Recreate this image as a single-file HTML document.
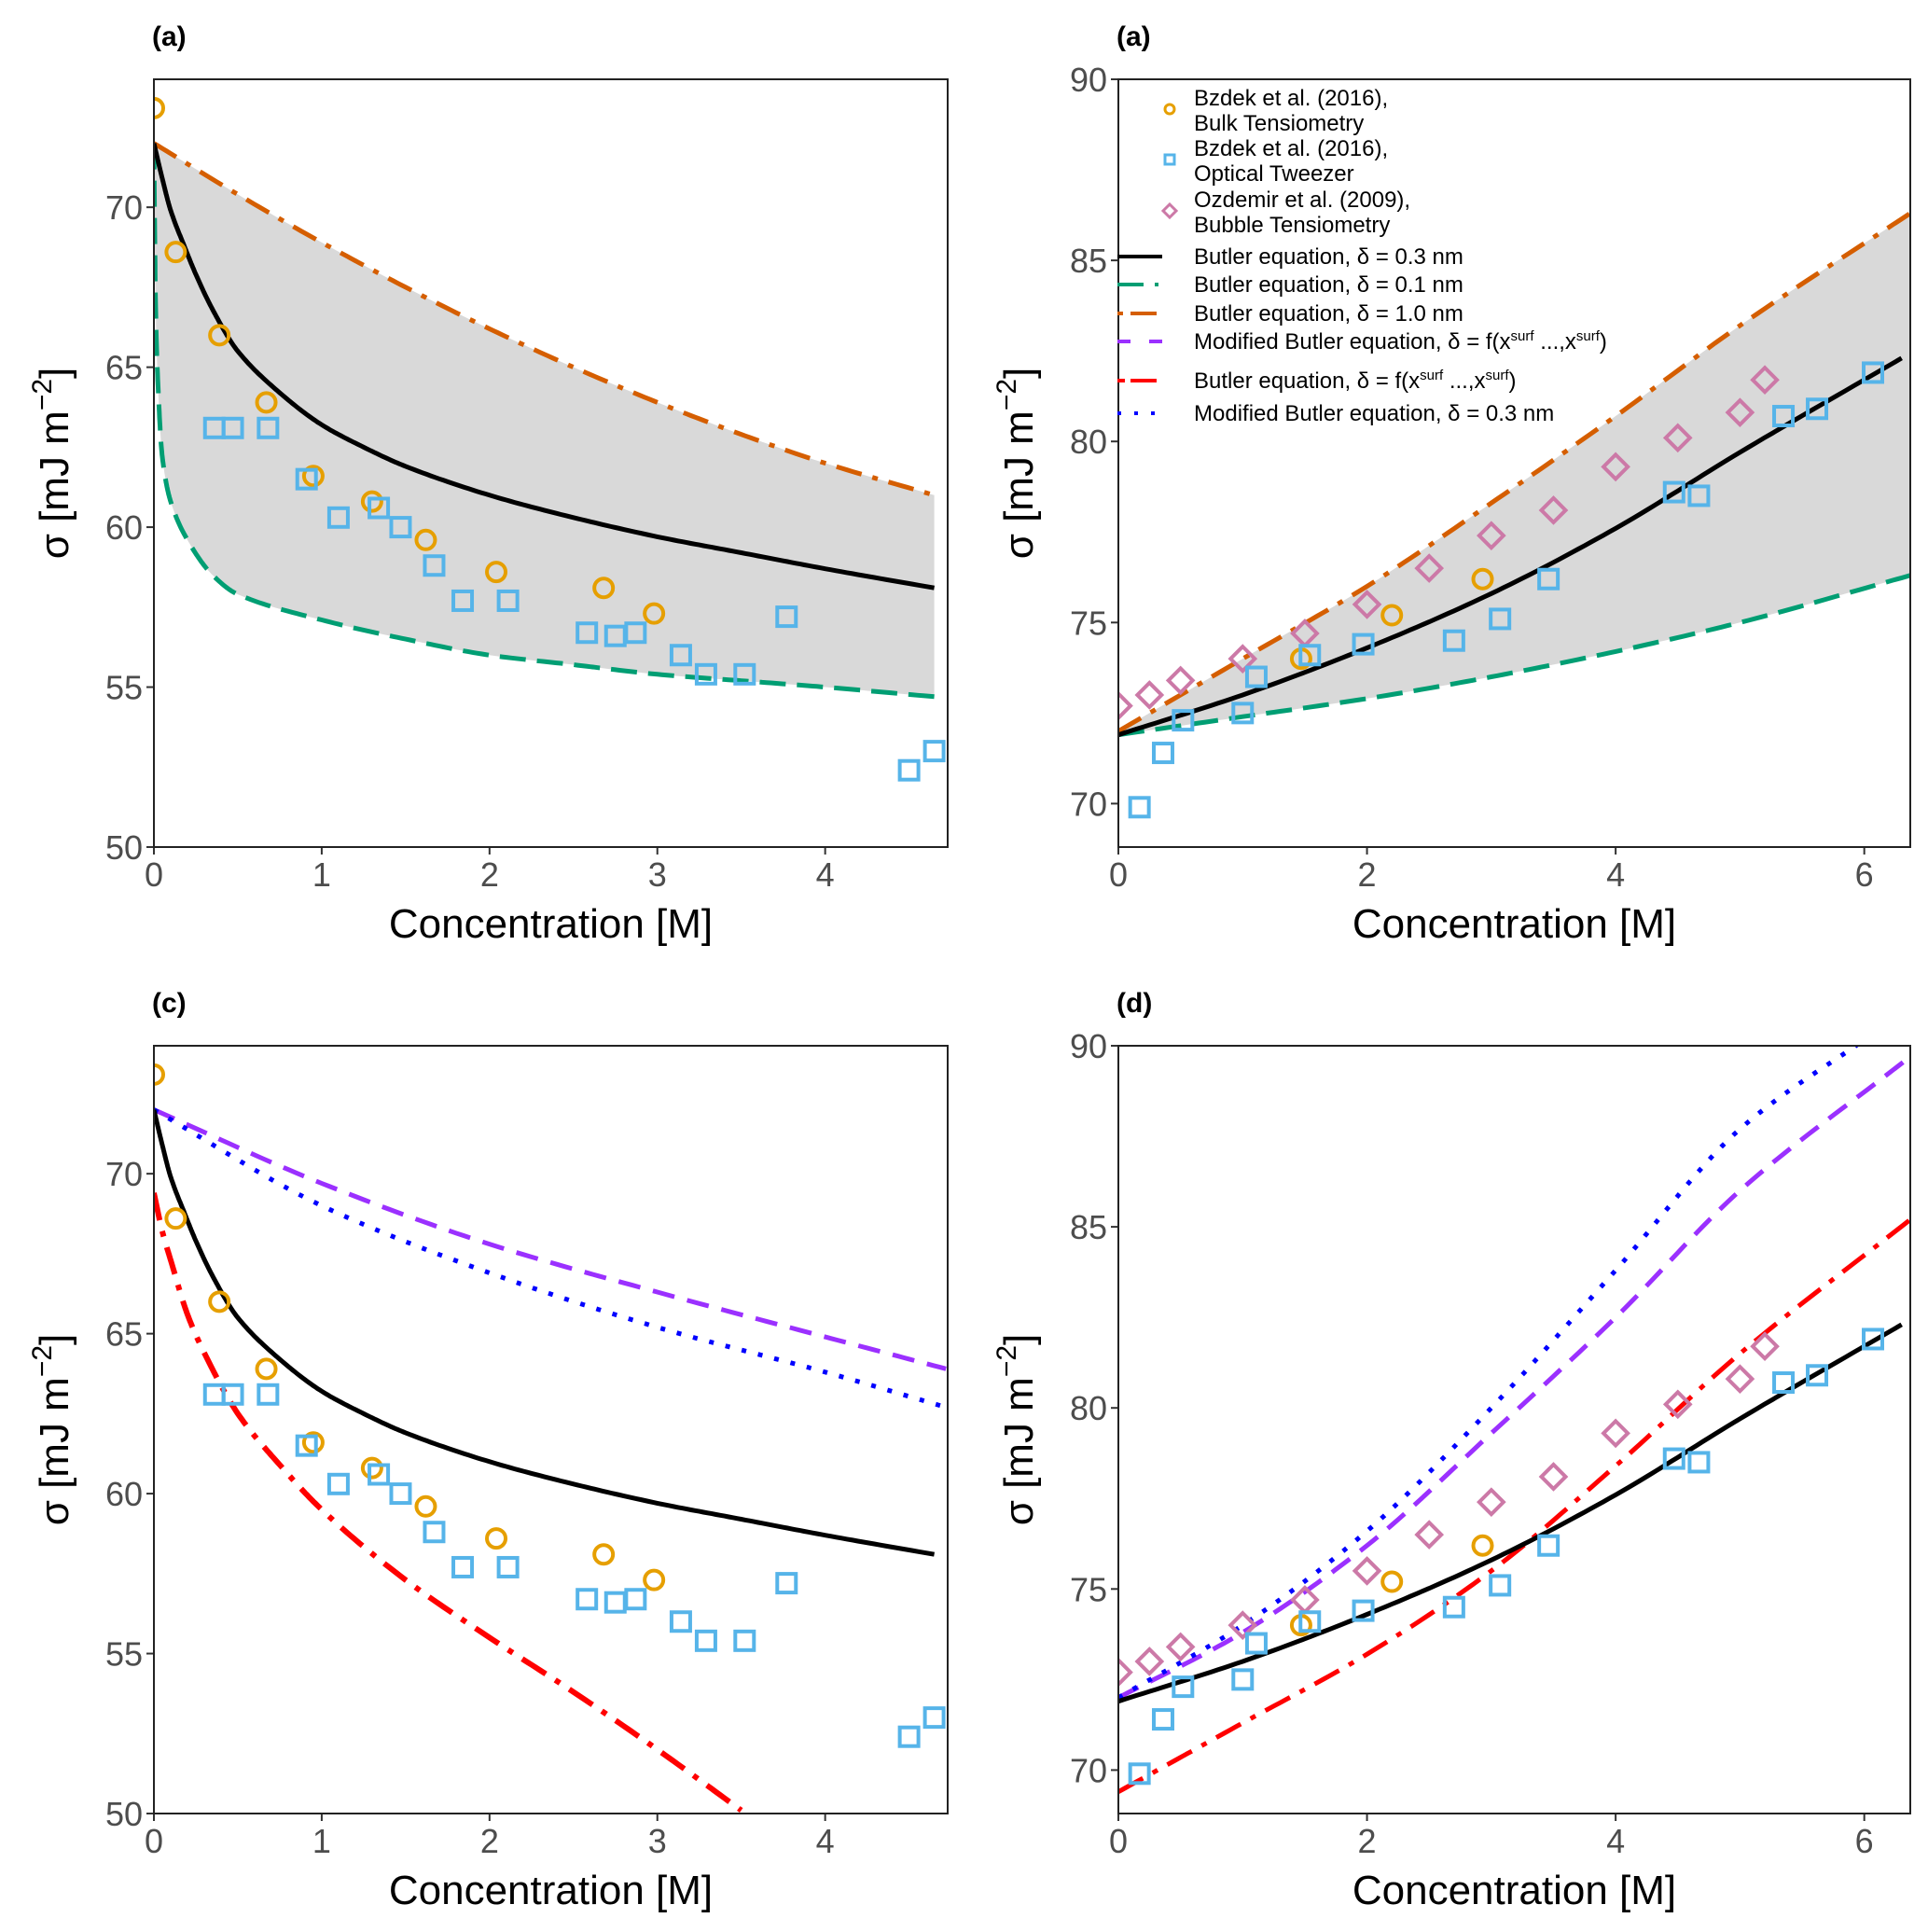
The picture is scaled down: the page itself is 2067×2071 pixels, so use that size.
<!DOCTYPE html>
<html><head><meta charset="utf-8"><style>
html,body{margin:0;padding:0;background:#fff;}
svg{display:block;font-family:"Liberation Sans",Arial,sans-serif;}
</style></head><body>
<svg id="fig" width="2067" height="2071" viewBox="0 0 2067 2071" xmlns="http://www.w3.org/2000/svg"></svg>
<script>
// ---- data ----
const bulkX=[0,0.13,0.39,0.67,0.95,1.3,1.62,2.04,2.68,2.98];
const bulkY=[73.1,68.6,66.0,63.9,61.6,60.8,59.6,58.6,58.1,57.3];
const tweezX=[0.36,0.47,0.68,0.91,1.1,1.34,1.47,1.67,1.84,2.11,2.58,2.75,2.87,3.14,3.29,3.52,3.77,4.5,4.65];
const tweezY=[63.1,63.1,63.1,61.5,60.3,60.6,60.0,58.8,57.7,57.7,56.7,56.6,56.7,56.0,55.4,55.4,57.2,52.4,53.0];
const butA_X=[0,0.05,0.1,0.18,0.25,0.35,0.5,0.75,1,1.25,1.5,2,2.5,3,3.5,4,4.65];
const butA_Y=[72,70.9,69.9,68.8,67.9,66.8,65.5,64.2,63.2,62.5,61.9,61.0,60.3,59.7,59.2,58.7,58.1];
const orA_X=[0,0.5,1,1.5,2,2.5,3,3.5,4,4.65];
const orA_Y=[72,70.4,68.9,67.5,66.2,65.0,63.9,62.9,62.0,61.0];
const grA_X=[0,0.01,0.02,0.05,0.1,0.2,0.35,0.5,1,1.5,2,2.5,3,3.5,4,4.65];
const grA_Y=[72,67,65,62.2,60.8,59.6,58.5,57.9,57.1,56.5,56.0,55.7,55.4,55.2,55.0,54.7];
const purC_X=[0,1,2,3,4,4.72];const purC_Y=[72,69.7,67.8,66.3,64.9,63.9];
const bluC_X=[0,1,2,3,4,4.72];const bluC_Y=[72,69.0,66.9,65.2,63.8,62.7];
const redC_X=[0,0.05,0.1,0.2,0.3,0.5,0.75,1,1.5,2,2.5,3,3.5];
const redC_Y=[69.4,68.2,67.3,65.6,64.4,62.5,60.9,59.5,57.3,55.5,53.8,52.0,50.1];
const ozX=[0,0.25,0.5,1,1.5,2,2.5,3,3.5,4,4.5,5,5.2];
const ozY=[72.7,73.0,73.4,74.0,74.7,75.5,76.5,77.4,78.1,79.3,80.1,80.8,81.7];
const bulkBX=[1.47,2.2,2.93];const bulkBY=[74.0,75.2,76.2];
const tweBX=[0.17,0.36,0.52,1.0,1.11,1.54,1.97,2.7,3.07,3.46,4.47,4.67,5.35,5.62,6.07];
const tweBY=[69.9,71.4,72.3,72.5,73.5,74.1,74.4,74.5,75.1,76.2,78.6,78.5,80.7,80.9,81.9];
const butB_X=[0,1,2,3,4,5,6.3];const butB_Y=[71.9,73.0,74.3,75.8,77.6,79.7,82.3];
const orB_X=[0,1,2,3,4,5,6.37];const orB_Y=[72,74.0,76.0,78.3,80.7,83.2,86.3];
const grB_X=[0,1,2,3,4,5,6.37];const grB_Y=[71.9,72.4,72.9,73.5,74.2,75.0,76.3];
const purD_X=[0,1,2,3,4,5,6.37];const purD_Y=[72,73.8,76.2,79.3,82.5,86.0,89.7];
const bluD_X=[0,1,2,3,4,5,6.1];const bluD_Y=[72,74.0,76.6,80.0,83.8,87.7,90.4];
const redD_X=[0,1,2,3,4,5,6.37];const redD_Y=[69.4,71.3,73.2,75.5,78.4,81.5,85.2];
const ticksXL=[0,1,2,3,4];const ticksYL=[50,55,60,65,70];
const ticksXR=[0,2,4,6];const ticksYR=[70,75,80,85,90];

const NS="http://www.w3.org/2000/svg";
const svg=document.getElementById('fig');
function el(tag,attrs,parent,txt){const e=document.createElementNS(NS,tag);for(const k in attrs)e.setAttribute(k,attrs[k]);if(txt!==undefined)e.textContent=txt;(parent||svg).appendChild(e);return e;}
const C={or:"#E69F00",bl:"#56B4E9",pk:"#CC79A7",dor:"#D55E00",gr:"#009E73",pu:"#9B30FF",rd:"#FF0000",db:"#0000FF"};

// monotone cubic interpolation -> dense pixel points
function smoothPts(X,Y,sx,sy){
  const n=X.length;const px=X.map(sx),py=Y.map(sy);
  if(n<3)return px.map((x,i)=>[x,py[i]]);
  const d=[],m=[];
  for(let i=0;i<n-1;i++)d.push((py[i+1]-py[i])/(px[i+1]-px[i]));
  m[0]=d[0];m[n-1]=d[n-2];
  for(let i=1;i<n-1;i++)m[i]=(d[i-1]*d[i]<=0)?0:(2/(1/d[i-1]+1/d[i]))*((1));
  const out=[];
  for(let i=0;i<n-1;i++){const h=px[i+1]-px[i];const N=20;
    for(let k=0;k<N;k++){const t=k/N,t2=t*t,t3=t2*t;
      const y=(2*t3-3*t2+1)*py[i]+(t3-2*t2+t)*h*m[i]+(-2*t3+3*t2)*py[i+1]+(t3-t2)*h*m[i+1];
      out.push([px[i]+t*h,y]);}}
  out.push([px[n-1],py[n-1]]);return out;
}

function panel(name,L,R,T,B,xmin,xmax,ymin,ymax,tx,ty,label){
  const g=el('g',{});
  
  
  const sx=v=>L+(v-xmin)/(xmax-xmin)*(R-L);
  const sy=v=>B-(v-ymin)/(ymax-ymin)*(B-T);
  const cid='clip-'+name;
  const cp=el('clipPath',{id:cid},g);el('rect',{x:L,y:T,width:R-L,height:B-T},cp);
  const plot=el('g',{'clip-path':'url(#'+cid+')'},g);
  
  
  const lab=el('text',{x:L-2,y:T-36,'font-size':30,'font-weight':'bold',fill:'#000'},g,label);
  
  
  tx.forEach(v=>{el('line',{x1:sx(v),x2:sx(v),y1:B,y2:B+8,stroke:'#333','stroke-width':2},g);
    const t=el('text',{x:sx(v),y:B+42,'font-size':36,fill:'#4D4D4D','text-anchor':'middle'},g,v);
    
    });
  ty.forEach(v=>{el('line',{x1:L-8,x2:L,y1:sy(v),y2:sy(v),stroke:'#333','stroke-width':2},g);
    const t=el('text',{x:L-12,y:sy(v)+13,'font-size':36,fill:'#4D4D4D','text-anchor':'end'},g,v);
    
    });
  const xt=el('text',{x:(L+R)/2,y:B+97,'font-size':44,fill:'#000','text-anchor':'middle'},g,'Concentration [M]');
  
  
  const yt=el('text',{transform:`translate(${L-92},${(T+B)/2}) rotate(-90)`,'font-size':44,fill:'#000','text-anchor':'middle'},g);
  
  
  el('tspan',{},yt,'σ [mJ m');el('tspan',{dy:-18,'font-size':30},yt,'−2');el('tspan',{dy:18},yt,']');
  const P={sx,sy,plot,g,L,R,T,B};
  P.pp=(X,Y)=>smoothPts(X,Y,sx,sy);
  P.path=(X,Y)=>P.pp(X,Y).map((p,i)=>(i?'L':'M')+p[0].toFixed(1)+','+p[1].toFixed(1)).join('');
  P.line=(nm,X,Y,col,dash,w)=>{const p=el('path',{d:P.path(X,Y),fill:'none',stroke:col,'stroke-width':w||5,'stroke-dasharray':dash||'none'},plot);
    
    };
  P.band=(X1,Y1,X2,Y2)=>{let d=P.path(X1,Y1);const b=P.pp(X2,Y2).reverse();b.forEach(p=>d+='L'+p[0].toFixed(1)+','+p[1].toFixed(1));
    const p=el('path',{d:d+'Z',fill:'#D9D9D9',stroke:'none'},plot);
    
    };
  P.pts=(nm,X,Y,shape,col)=>{X.forEach((x,i)=>{const cx=sx(x),cy=sy(Y[i]);let m;
    if(shape==='c')m=el('circle',{cx,cy,r:10,fill:'none',stroke:col,'stroke-width':4},plot);
    else if(shape==='s')m=el('rect',{x:cx-10,y:cy-10,width:20,height:20,fill:'none',stroke:col,'stroke-width':4},plot);
    else m=el('path',{d:`M${cx},${cy-13}L${cx+13},${cy}L${cx},${cy+13}L${cx-13},${cy}Z`,fill:'none',stroke:col,'stroke-width':4},plot);
    
    });};
  P.frame=()=>{el('rect',{x:L,y:T,width:R-L,height:B-T,fill:'none',stroke:'#222','stroke-width':2},g);};
  return P;
}
const dLong='28 12', dOrg='28 12 6 12', dDot='5 13', dPur='24 14', dRed='30 12 6 12';

// panel a
let P=panel('panel-a',165,1016,85,908,0,4.73,50,74.0,ticksXL,ticksYL,'(a)');
P.band(orA_X,orA_Y,grA_X,grA_Y);
P.line('butler-0.1nm',grA_X,grA_Y,C.gr,dLong);
P.line('butler-1.0nm',orA_X,orA_Y,C.dor,dOrg);
P.line('butler-0.3nm',butA_X,butA_Y,'#000');
P.pts('bulk-point',bulkX,bulkY,'c',C.or);P.pts('tweezer-point',tweezX,tweezY,'s',C.bl);P.frame();

// panel c
P=panel('panel-c',165,1016,1121,1944,0,4.73,50,74.0,ticksXL,ticksYL,'(c)');
P.line('modified-butler-f',purC_X,purC_Y,C.pu,dPur);
P.line('modified-butler-0.3nm',bluC_X,bluC_Y,C.db,dDot);
P.line('butler-f',redC_X,redC_Y,C.rd,dRed,6);
P.line('butler-0.3nm',butA_X,butA_Y,'#000');
P.pts('bulk-point',bulkX,bulkY,'c',C.or);P.pts('tweezer-point',tweezX,tweezY,'s',C.bl);P.frame();

// panel b
P=panel('panel-b',1199,2048,85,908,0,6.37,68.8,90,ticksXR,ticksYR,'(a)');
P.band(orB_X,orB_Y,grB_X,grB_Y);
P.line('butler-0.1nm',grB_X,grB_Y,C.gr,dLong);
P.line('butler-1.0nm',orB_X,orB_Y,C.dor,dOrg);
P.line('butler-0.3nm',butB_X,butB_Y,'#000');
P.pts('bubble-point',ozX,ozY,'d',C.pk);P.pts('bulk-point',bulkBX,bulkBY,'c',C.or);P.pts('tweezer-point',tweBX,tweBY,'s',C.bl);P.frame();
// legend
const lg=el('g',{});


const LX=1280;
const lt=(y,t)=>el('text',{x:LX,y:y,'font-size':24,fill:'#000'},lg,t);
el('circle',{cx:1254,cy:117,r:5,fill:'none',stroke:C.or,'stroke-width':3},lg);lt(113,'Bzdek et al. (2016),');lt(140,'Bulk Tensiometry');
el('rect',{x:1249,y:166,width:10,height:10,fill:'none',stroke:C.bl,'stroke-width':3},lg);lt(167,'Bzdek et al. (2016),');lt(194,'Optical Tweezer');
el('path',{d:'M1254,219L1261,226L1254,233L1247,226Z',fill:'none',stroke:C.pk,'stroke-width':3},lg);lt(222,'Ozdemir et al. (2009),');lt(249,'Bubble Tensiometry');
const ll=(y,col,dash,t,sub)=>{el('line',{x1:1198,x2:1246,y1:y,y2:y,stroke:col,'stroke-width':4,'stroke-dasharray':dash},lg);
  const tt=el('text',{x:LX,y:y+8,'font-size':24,fill:'#000'},lg,t);
  if(sub){el('tspan',{dy:-9,'font-size':15},tt,'surf');el('tspan',{dy:9},tt,' ...,x');el('tspan',{dy:-9,'font-size':15},tt,'surf');el('tspan',{dy:9},tt,')');}};
ll(275,'#000','none','Butler equation, δ = 0.3 nm');
ll(305,C.gr,'28 12 4 12','Butler equation, δ = 0.1 nm');
ll(336,C.dor,'6 8 28 10','Butler equation, δ = 1.0 nm');
ll(366,C.pu,'14 20 14','Modified Butler equation, δ = f(x',1);
ll(408,C.rd,'8 6 28 8','Butler equation, δ = f(x',1);
ll(443,C.db,'4 14','Modified Butler equation, δ = 0.3 nm');

// panel d
P=panel('panel-d',1199,2048,1121,1944,0,6.37,68.8,90,ticksXR,ticksYR,'(d)');
P.line('modified-butler-f',purD_X,purD_Y,C.pu,dPur);
P.line('modified-butler-0.3nm',bluD_X,bluD_Y,C.db,dDot);
P.line('butler-f',redD_X,redD_Y,C.rd,dRed);
P.line('butler-0.3nm',butB_X,butB_Y,'#000');
P.pts('bubble-point',ozX,ozY,'d',C.pk);P.pts('bulk-point',bulkBX,bulkBY,'c',C.or);P.pts('tweezer-point',tweBX,tweBY,'s',C.bl);P.frame();
</script>
</body></html>
